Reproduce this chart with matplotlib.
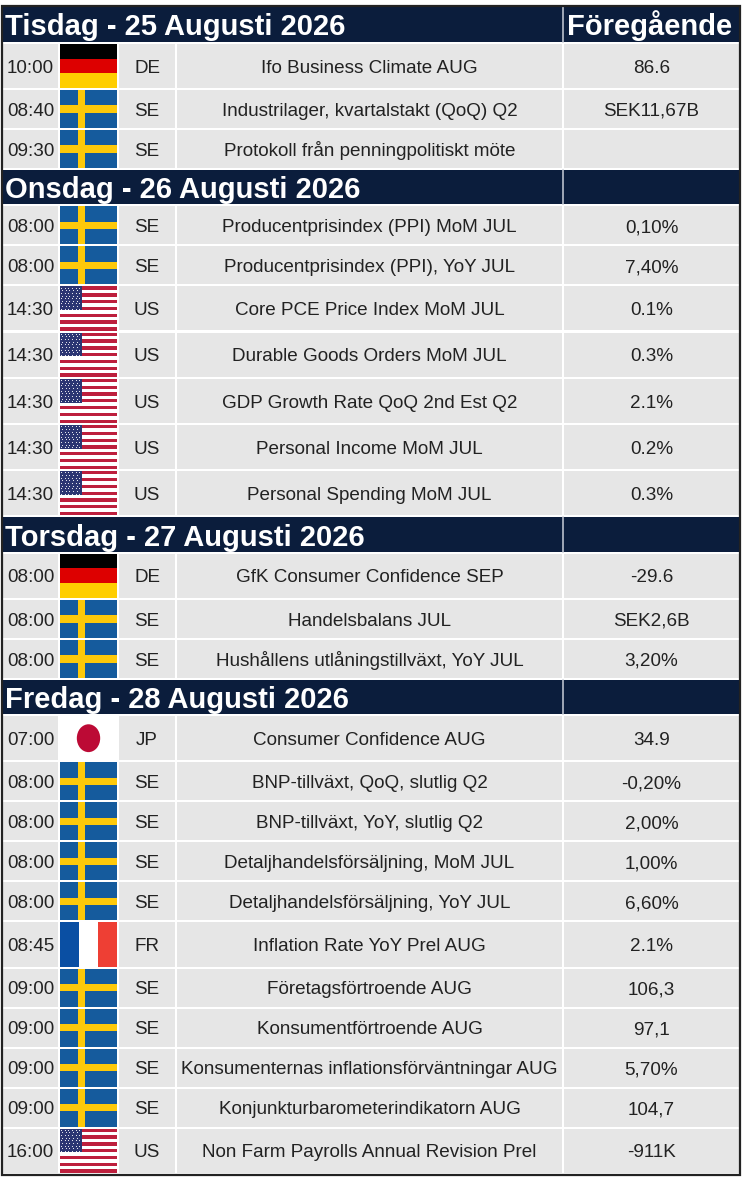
import matplotlib
matplotlib.use("Agg")
import matplotlib.pyplot as plt
from matplotlib.patches import Rectangle, Ellipse
import numpy as np

plt.rcParams['font.family'] = ['Liberation Sans', 'DejaVu Sans']

# calendar data, one inner list per day
day_titles = ["Tisdag - 25 Augusti 2026", "Onsdag - 26 Augusti 2026",
              "Torsdag - 27 Augusti 2026", "Fredag - 28 Augusti 2026"]
prev_title = "Föregående"

times = [
    ["10:00", "08:40", "09:30"],
    ["08:00", "08:00", "14:30", "14:30", "14:30", "14:30", "14:30"],
    ["08:00", "08:00", "08:00"],
    ["07:00", "08:00", "08:00", "08:00", "08:00", "08:45", "09:00", "09:00", "09:00", "09:00", "16:00"],
]
countries = [
    ["DE", "SE", "SE"],
    ["SE", "SE", "US", "US", "US", "US", "US"],
    ["DE", "SE", "SE"],
    ["JP", "SE", "SE", "SE", "SE", "FR", "SE", "SE", "SE", "SE", "US"],
]
events = [
    ["Ifo Business Climate AUG", "Industrilager, kvartalstakt (QoQ) Q2",
     "Protokoll från penningpolitiskt möte"],
    ["Producentprisindex (PPI) MoM JUL", "Producentprisindex (PPI), YoY JUL",
     "Core PCE Price Index MoM JUL", "Durable Goods Orders MoM JUL",
     "GDP Growth Rate QoQ 2nd Est Q2", "Personal Income MoM JUL",
     "Personal Spending MoM JUL"],
    ["GfK Consumer Confidence SEP", "Handelsbalans JUL",
     "Hushållens utlåningstillväxt, YoY JUL"],
    ["Consumer Confidence AUG", "BNP-tillväxt, QoQ, slutlig Q2",
     "BNP-tillväxt, YoY, slutlig Q2", "Detaljhandelsförsäljning, MoM JUL",
     "Detaljhandelsförsäljning, YoY JUL", "Inflation Rate YoY Prel AUG",
     "Företagsförtroende AUG", "Konsumentförtroende AUG",
     "Konsumenternas inflationsförväntningar AUG",
     "Konjunkturbarometerindikatorn AUG",
     "Non Farm Payrolls Annual Revision Prel"],
]
previous = [
    ["86.6", "SEK11,67B", ""],
    ["0,10%", "7,40%", "0.1%", "0.3%", "2.1%", "0.2%", "0.3%"],
    ["-29.6", "SEK2,6B", "3,20%"],
    ["34.9", "-0,20%", "2,00%", "1,00%", "6,60%", "2.1%", "106,3", "97,1",
     "5,70%", "104,7", "-911K"],
]

# layout (pixels)
W, H = 742, 1178
col_edges = [2, 59, 118, 176, 563, 740]
header_h = 36.3
row_h = {"SE": 40.0}
other_h = 46.2
navy = "#0b1d3c"
cell = "#e6e6e6"
txt = "#222222"
body_fs = 13.6
head_fs = 21

fig = plt.figure(figsize=(W / 100, H / 100), dpi=100)
ax = fig.add_axes([0, 0, 1, 1])
ax.set_xlim(0, W)
ax.set_ylim(H, 0)
ax.axis('off')


def flag(code, x, y, w, h):
    if code == "SE":
        ax.add_patch(Rectangle((x, y), w, h, color="#155b9d", lw=0))
        ax.add_patch(Rectangle((x + w * 5 / 16, y), w * 2 / 16, h, color="#fdc90a", lw=0))
        ax.add_patch(Rectangle((x, y + h * 0.4), w, h * 0.2, color="#fdc90a", lw=0))
    elif code == "DE":
        for i, c in enumerate(["#000000", "#dd0000", "#ffce00"]):
            ax.add_patch(Rectangle((x, y + i * h / 3), w, h / 3, color=c, lw=0))
    elif code == "FR":
        for i, c in enumerate(["#0a4fa3", "#ffffff", "#ee3f34"]):
            ax.add_patch(Rectangle((x + i * w / 3, y), w / 3, h, color=c, lw=0))
    elif code == "JP":
        ax.add_patch(Rectangle((x, y), w, h, color="#ffffff", lw=0))
        ax.add_patch(Ellipse((x + w / 2, y + h / 2), w * 0.41, h * 0.63, color="#bc0a35", lw=0))
    elif code == "US":
        ax.add_patch(Rectangle((x, y), w, h, color="#ffffff", lw=0))
        sh = h / 13
        for i in range(0, 13, 2):
            ax.add_patch(Rectangle((x, y + i * sh), w, sh, color="#bd1f3d", lw=0))
        cw, ch = w * 0.39, sh * 7
        ax.add_patch(Rectangle((x, y), cw, ch, color="#2b3572", lw=0))
        sx, sy = [], []
        for r in range(9):
            n = 6 if r % 2 == 0 else 5
            off = 0.5 if r % 2 == 0 else 1.0
            for k in range(n):
                sx.append(x + cw * (k * 2 + off) / 12)
                sy.append(y + ch * (r + 0.5) / 9)
        ax.scatter(sx, sy, s=0.6, color="white", lw=0, zorder=3)


y = 6.5
for d in range(len(day_titles)):
    top = y if d == 0 else y + 1
    ax.add_patch(Rectangle((col_edges[0], top), col_edges[-1] - col_edges[0],
                           y + header_h - 1 - top, color=navy, lw=0))
    ax.plot([col_edges[4], col_edges[4]], [top, y + header_h - 1], color="#c9ced8", lw=1.1)
    mid = (top + y + header_h - 1) / 2
    ax.text(col_edges[0] + 3, mid + 11.3, day_titles[d], color="white", fontsize=head_fs,
            fontweight="bold", ha="left", va="baseline")
    if d == 0:
        ax.text((col_edges[4] + col_edges[5]) / 2 - 2, mid + 11.3, prev_title, color="white",
                fontsize=head_fs, fontweight="bold", ha="center", va="baseline")
    y += header_h

    for i in range(len(times[d])):
        h = row_h.get(countries[d][i], other_h)
        y0, y1 = y + 1, y + h - 1
        for c in range(5):
            x0, x1 = col_edges[c] + 1, col_edges[c + 1] - 1
            if c == 0:
                x0 = col_edges[0]
            if c == 4:
                x1 = col_edges[5]
            if c == 1:
                flag(countries[d][i], x0, y0, x1 - x0, y1 - y0)
            else:
                ax.add_patch(Rectangle((x0, y0), x1 - x0, y1 - y0, color=cell, lw=0))
        ym = (y0 + y1) / 2 + 6.8
        centers = [(col_edges[k] + col_edges[k + 1]) / 2 for k in range(5)]
        ax.text(centers[0], ym, times[d][i], color=txt, fontsize=body_fs, ha="center", va="baseline")
        ax.text(centers[2], ym, countries[d][i], color=txt, fontsize=body_fs, ha="center", va="baseline")
        ax.text(centers[3], ym, events[d][i], color=txt, fontsize=body_fs, ha="center", va="baseline")
        ax.text(centers[4], ym, previous[d][i], color=txt, fontsize=body_fs, ha="center", va="baseline")
        y += h

# outer frame
ax.add_patch(Rectangle((col_edges[0], 6), col_edges[-1] - col_edges[0], y - 6 + 1,
                       fill=False, edgecolor="#222222", lw=1.6, zorder=5))

fig.savefig("out.png", dpi=100, facecolor="white")
